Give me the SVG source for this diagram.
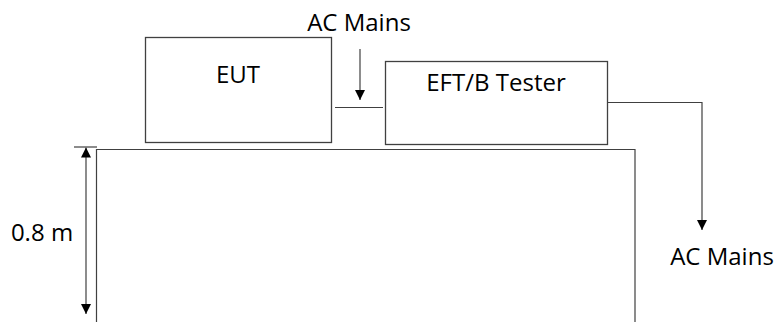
<svg xmlns="http://www.w3.org/2000/svg" width="774" height="331" viewBox="0 0 774 331">
<style>
.box{fill:#fff;stroke:#404040;stroke-width:1.3}
.ln{fill:none;stroke:#404040;stroke-width:1.2}
.t{font-family:"Open Sans","Noto Sans",sans-serif;font-size:24px;fill:#000}
</style>
<defs>
<marker id="ah" markerWidth="10" markerHeight="10" viewBox="0 0 10 10" refX="10" refY="5" orient="auto" markerUnits="userSpaceOnUse">
<path d="M0,0 L10,5 L0,10 Z" fill="#000"/>
</marker>
</defs>
<rect width="774" height="331" fill="#fff"/>
<g id="table">
<path class="ln" d="M96.5,322 V149.5 H635 V322"/>
</g>
<g id="eut">
<rect class="box" x="145.5" y="37.5" width="186" height="105"/>
<text class="t" x="238" y="83" text-anchor="middle">EUT</text>
</g>
<g id="tester">
<rect class="box" x="385.5" y="61.5" width="222" height="83"/>
<text class="t" x="496" y="91" text-anchor="middle">EFT/B Tester</text>
</g>
<g id="labels">
<text class="t" x="359" y="31" text-anchor="middle">AC Mains</text>
<text class="t" x="722" y="265" text-anchor="middle">AC Mains</text>
<text class="t" x="42" y="241" text-anchor="middle">0.8 m</text>
</g>
<g id="connectors">
<line class="ln" x1="335" y1="107.5" x2="383" y2="107.5"/>
<line class="ln" x1="360" y1="49" x2="360" y2="100" marker-end="url(#ah)"/>
<polyline class="ln" points="608,102.5 702,102.5 702,230" marker-end="url(#ah)"/>
<line class="ln" x1="74" y1="147" x2="97" y2="147"/>
<line class="ln" x1="86" y1="180" x2="86" y2="147.5" marker-end="url(#ah)"/>
<line class="ln" x1="86" y1="180" x2="86" y2="314" marker-end="url(#ah)"/>
</g>
</svg>
